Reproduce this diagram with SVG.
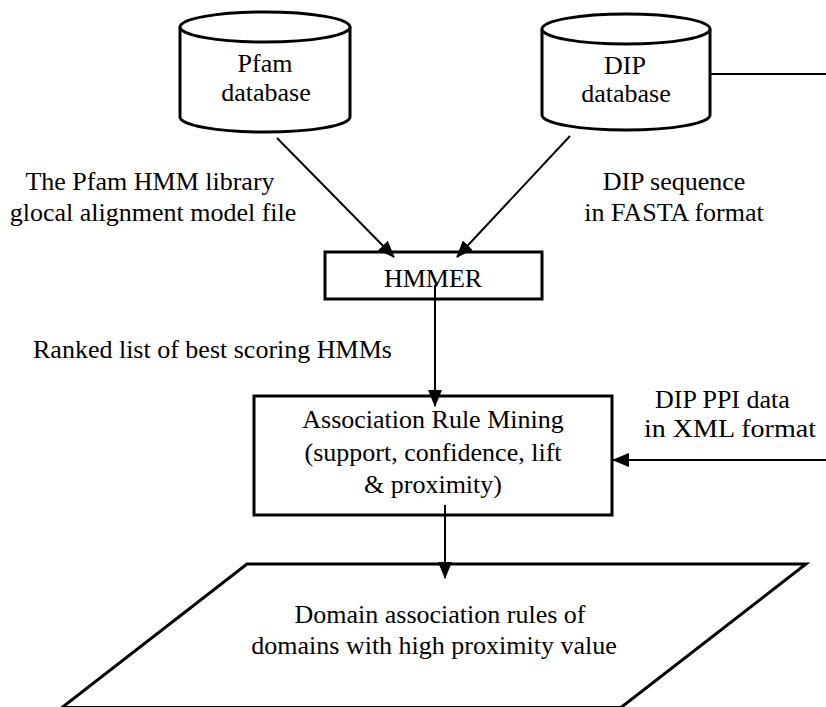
<svg xmlns="http://www.w3.org/2000/svg" width="826" height="707" viewBox="0 0 826 707">
<defs>
<style>
.shape{fill:#fff;stroke:#000;stroke-width:3}
.conn{fill:none;stroke:#000;stroke-width:2}
</style>
<marker id="ah" markerUnits="userSpaceOnUse" markerWidth="18" markerHeight="14" refX="16" refY="7" orient="auto">
<path d="M0,0 L17,7 L0,14 Z" fill="#000"/>
</marker>
</defs>
<rect width="826" height="707" fill="#fff"/>
<g id="pfam">
<path class="shape" d="M180,27 V117 A85,15 0 0 0 350,117 V27"/>
<ellipse class="shape" cx="265" cy="27" rx="85" ry="15"/>
<text font-family="Liberation Serif" font-size="26" text-anchor="middle" x="265" y="72">Pfam</text>
<text font-family="Liberation Serif" font-size="26" text-anchor="middle" x="266" y="101">database</text>
</g>
<g id="dip">
<path class="shape" d="M542,29 V115 A84,15 0 0 0 710,115 V29"/>
<ellipse class="shape" cx="626" cy="29" rx="84" ry="15"/>
<text font-family="Liberation Serif" font-size="26" text-anchor="middle" x="625" y="74">DIP</text>
<text font-family="Liberation Serif" font-size="26" text-anchor="middle" x="626" y="102">database</text>
</g>
<g id="hmmer">
<rect class="shape" x="325" y="252" width="217" height="47"/>
<text font-family="Liberation Serif" font-size="26" text-anchor="middle" x="433" y="287">HMMER</text>
</g>
<g id="arm">
<rect class="shape" x="254" y="396" width="358" height="119"/>
<text font-family="Liberation Serif" font-size="26" text-anchor="middle" x="433" y="428">Association Rule Mining</text>
<text font-family="Liberation Serif" font-size="26" text-anchor="middle" x="433" y="461">(support, confidence, lift</text>
<text font-family="Liberation Serif" font-size="26" text-anchor="middle" x="433" y="493">&amp; proximity)</text>
</g>
<g id="output">
<path class="shape" d="M247,564 L806,564 L621,707.5 L62,707.5 Z"/>
<text font-family="Liberation Serif" font-size="26" text-anchor="middle" x="440" y="623">Domain association rules of</text>
<text font-family="Liberation Serif" font-size="26" text-anchor="middle" x="434" y="654">domains with high proximity value</text>
</g>
<g id="labels">
<text font-family="Liberation Serif" font-size="26" text-anchor="middle" x="150" y="190">The Pfam HMM library</text>
<text font-family="Liberation Serif" font-size="26" text-anchor="middle" x="153" y="221">glocal alignment model file</text>
<text font-family="Liberation Serif" font-size="26" text-anchor="middle" x="674" y="190">DIP sequence</text>
<text font-family="Liberation Serif" font-size="26" text-anchor="middle" x="674" y="221">in FASTA format</text>
<text font-family="Liberation Serif" font-size="26" x="33" y="358">Ranked list of best scoring HMMs</text>
<text font-family="Liberation Serif" font-size="26" x="655" y="408">DIP PPI data</text>
<text font-family="Liberation Serif" font-size="26" x="644" y="437" textLength="172" lengthAdjust="spacingAndGlyphs">in XML format</text>
</g>
<g id="connectors">
<line class="conn" x1="277" y1="138" x2="394" y2="257" marker-end="url(#ah)"/>
<line class="conn" x1="570" y1="136" x2="457" y2="257" marker-end="url(#ah)"/>
<line class="conn" x1="435" y1="285" x2="435" y2="406" marker-end="url(#ah)"/>
<line class="conn" x1="445" y1="505" x2="445" y2="578" marker-end="url(#ah)"/>
<line class="conn" x1="710" y1="74" x2="826" y2="74"/>
<line class="conn" x1="826" y1="460" x2="613" y2="460" marker-end="url(#ah)"/>
</g>
</svg>
